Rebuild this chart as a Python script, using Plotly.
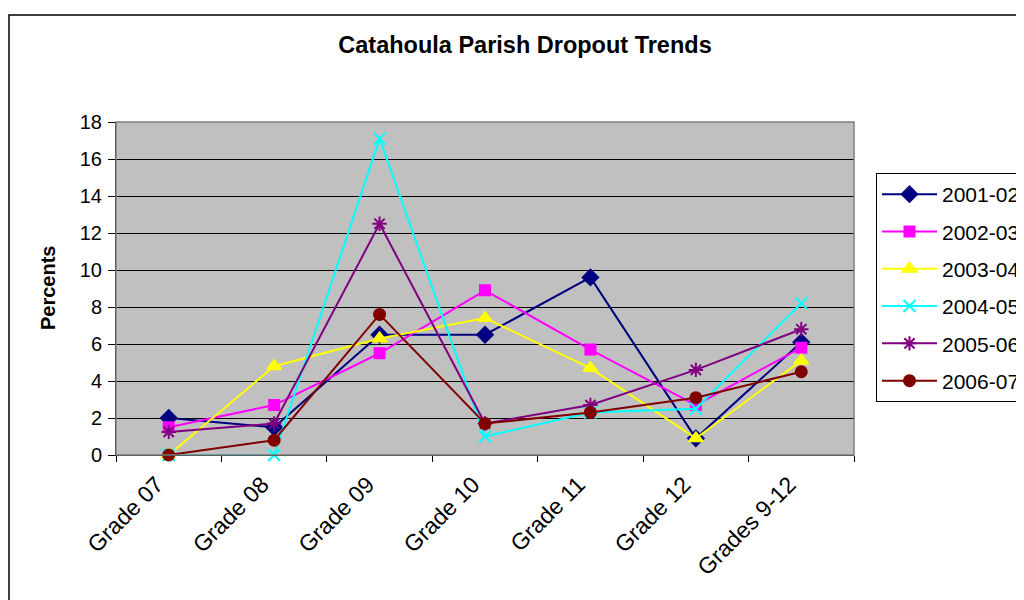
import plotly.graph_objects as go

categories = ["Grade 07", "Grade 08", "Grade 09", "Grade 10", "Grade 11", "Grade 12", "Grades 9-12"]
s2001_02 = [2.0, 1.5, 6.5, 6.5, 9.6, 0.9, 6.1]
s2002_03 = [1.5, 2.7, 5.5, 8.9, 5.7, 2.7, 5.8]
s2003_04 = [0.0, 4.8, 6.3, 7.4, 4.7, 0.9, 5.1]
s2004_05 = [0.0, 0.0, 17.1, 1.0, 2.3, 2.5, 8.2]
s2005_06 = [1.25, 1.7, 12.5, 1.7, 2.7, 4.6, 6.8]
s2006_07 = [0.0, 0.8, 7.6, 1.7, 2.3, 3.1, 4.5]

series = [
    ("2001-02", s2001_02, "#000080", "diamond", 12),
    ("2002-03", s2002_03, "#FF00FF", "square", 10),
    ("2003-04", s2003_04, "#FFFF00", "triangle-up", 12),
    ("2004-05", s2004_05, "#00FFFF", "x-thin-open", 12),
    ("2005-06", s2005_06, "#800080", "asterisk-open", 12),
    ("2006-07", s2006_07, "#800000", "circle", 11),
]

fig = go.Figure()
for name, vals, color, sym, size in series:
    fig.add_trace(go.Scatter(
        x=categories, y=vals, name=name, mode="lines+markers",
        line=dict(color=color, width=2),
        marker=dict(symbol=sym, size=size, color=color,
                    line=dict(color=color, width=2)),
        legendgroup=name, cliponaxis=False,
    ))

OFF = 8  # page body margin
W, H = 1024 - OFF, 600 - OFF
L, R, T, B = 116 - OFF, 854 - OFF, 122 - OFF, 455 - OFF
pw, ph = R - L, B - T

def px(x):
    return (x - OFF - L) / pw

def py(y):
    return (B - (y - OFF)) / ph

FONT = "Arial, Liberation Sans, sans-serif"

fig.update_layout(
    width=W, height=H,
    margin=dict(l=L, r=W - R, t=T, b=H - B, autoexpand=False),
    paper_bgcolor="white",
    plot_bgcolor="#C0C0C0",
    font=dict(family=FONT, size=20, color="black"),
    title=dict(text="<b>Catahoula Parish Dropout Trends</b>", x=px(525), xref="paper",
               xanchor="center", y=1 - (45 - OFF) / H, yanchor="middle",
               font=dict(size=23.5)),
    showlegend=True,
    legend=dict(x=px(876), y=py(173), xanchor="left", yanchor="top",
                bgcolor="white", bordercolor="black", borderwidth=1,
                font=dict(size=21), tracegroupgap=7, itemwidth=55),
    xaxis=dict(type="category", showgrid=False, ticks="outside", tickson="boundaries",
               ticklen=6, tickcolor="black", showline=True, linecolor="black",
               linewidth=1, tickangle=-45, range=[-0.5, 6.5],
               tickfont=dict(size=23), ticklabelstandoff=6, ticklabelshift=-12),
    yaxis=dict(range=[0, 18], dtick=2, showgrid=True, gridcolor="black", gridwidth=1,
               ticks="outside", ticklen=7, tickcolor="black", showline=True,
               linecolor="black", linewidth=1, zeroline=False,
               tickfont=dict(size=20), ticklabelstandoff=2),
    annotations=[
        dict(text="<b>Percents</b>", xref="paper", yref="paper", x=px(48), y=py(288),
             xanchor="center", yanchor="middle", textangle=-90, showarrow=False,
             font=dict(size=20)),
    ],
    shapes=[
        dict(type="rect", xref="paper", yref="paper", x0=0, x1=1, y0=0, y1=1,
             line=dict(color="#808080", width=1.5), fillcolor="rgba(0,0,0,0)", layer="above"),
        dict(type="rect", xref="paper", yref="paper", x0=px(9), x1=px(1040),
             y0=py(620), y1=py(15), line=dict(color="black", width=1.5),
             fillcolor="rgba(0,0,0,0)"),
    ],
)

fig.write_html("out.html")
